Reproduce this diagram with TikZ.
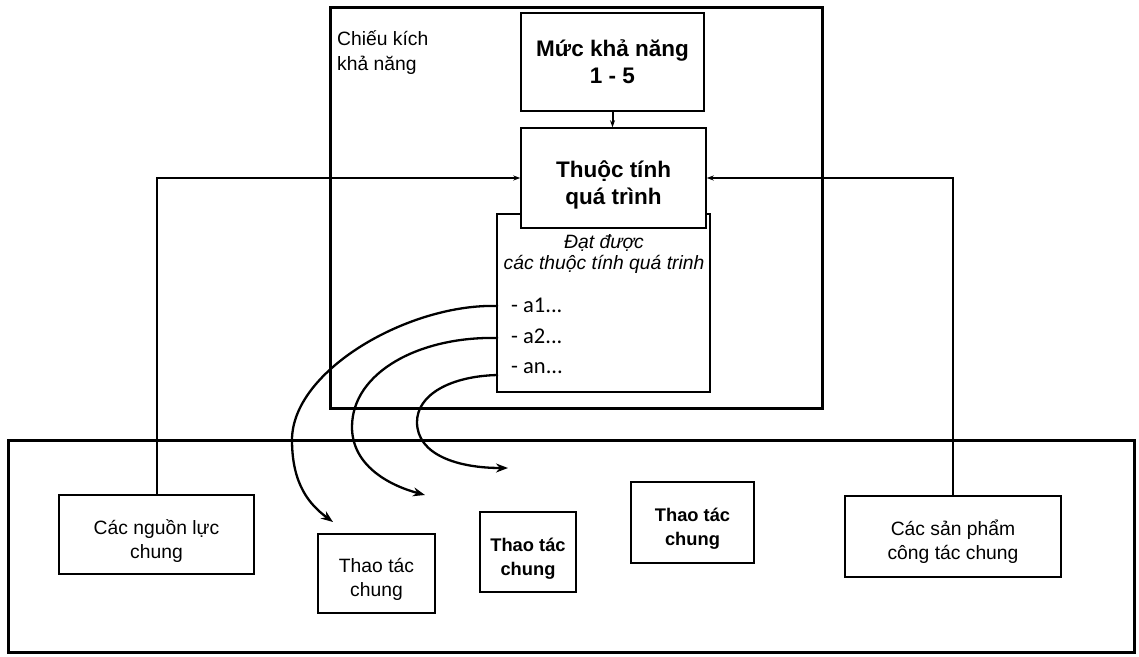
\documentclass[tikz,border=0pt]{standalone}
\usepackage{fontspec}
\setmainfont{Liberation Sans}
\newfontfamily\calib{Carlito}
\usetikzlibrary{arrows.meta}
\newcommand\mystr[1]{\rule{0pt}{#1}}
\begin{document}
\begin{tikzpicture}[x=1pt,y=-1pt,
  box/.style={draw, line width=1.5pt, fill=white, align=center, inner sep=0pt},
  bigbox/.style={draw, line width=3pt, inner sep=0pt},
  conn/.style={line width=2pt},
  smallarrow/.style={-{Stealth[length=7pt,width=5pt]}},
  curv/.style={line width=2.3pt, -{Stealth[length=12pt,width=9pt]}},
  regtxt/.style={font=\fontsize{19.3}{24}\selectfont},
  boldtxt/.style={font=\fontsize{22.5}{27}\selectfont\bfseries},
  semitxt/.style={font=\fontsize{18.3}{24}\selectfont\bfseries},
  itxt/.style={font=\fontsize{19.3}{21}\selectfont\itshape},
  atxt/.style={font=\fontsize{22.5}{24}\selectfont\calib, anchor=base west, inner sep=0pt}
]
\useasboundingbox (0,0) rectangle (1139,656);
\fill[white] (0,0) rectangle (1139,656);

% big frames
\node[bigbox, minimum width=492pt, minimum height=401pt] (upper) at (576,207.5) {};
\node[bigbox, minimum width=1126pt, minimum height=212pt] (lower) at (571,546) {};

\node[font=\fontsize{19.3}{25}\selectfont, anchor=north west, align=left, inner sep=0pt] (ck) at (337,30) {Chiếu kích\\khả năng};

% upper boxes
\node[box, boldtxt, minimum width=183pt, minimum height=98pt] (mk) at (612.5,62) {Mức khả năng\\1 - 5};
\node[box, minimum width=213pt, minimum height=178pt] (dd) at (603.5,303) {};
\node[box, boldtxt, minimum width=185pt, minimum height=100pt] (tt) at (613.5,178) {\mystr{30pt}Thuộc tính\\quá trình};

\node[itxt, align=center, inner sep=0pt] (dt) at (604,254) {Đạt được\\các thuộc tính quá trinh};
\node[atxt] (a1) at (511,312) {- a1...};
\node[atxt] (a2) at (511,343) {- a2...};
\node[atxt] (an) at (511,373) {- an...};

% lower boxes
\node[box, regtxt, minimum width=195pt, minimum height=79pt] (cnl) at (156.5,534.5) {\mystr{27pt}Các nguồn lực\\chung};
\node[box, regtxt, minimum width=117pt, minimum height=79pt] (tt1) at (376.5,573.5) {\mystr{26pt}Thao tác\\chung};
\node[box, semitxt, minimum width=96pt, minimum height=80pt] (tt2) at (528,552) {\mystr{26pt}Thao tác\\chung};
\node[box, semitxt, minimum width=123pt, minimum height=81pt] (tt3) at (692.5,522.5) {\mystr{26pt}Thao tác\\chung};
\node[box, regtxt, minimum width=216pt, minimum height=81pt] (csp) at (953,536.5) {\mystr{25pt}Các sản phẩm\\công tác chung};

% connectors
\draw[conn, smallarrow] (mk.south) -- (mk.south |- tt.north);
\draw[conn, smallarrow] (cnl.north) |- (tt.west);
\draw[conn, smallarrow] (csp.north) |- (tt.east);

\coordinate (s1) at (498,306);
\coordinate (s2) at (498,338);
\coordinate (s3) at (498,375);
\coordinate (e1) at (333,522);
\coordinate (e2) at (425,495);
\coordinate (e3) at (508,468);

\draw[curv] (s1) .. controls (410,303) and (292,370) .. (292,440)
  .. controls (292,485) and (310,505) .. (e1);
\draw[curv] (s2) .. controls (420,336) and (352,372) .. (352,427)
  .. controls (352,465) and (388,485) .. (e2);
\draw[curv] (s3) .. controls (450,376) and (417,395) .. (417,422)
  .. controls (417,455) and (458,468) .. (e3);
\end{tikzpicture}
\end{document}
